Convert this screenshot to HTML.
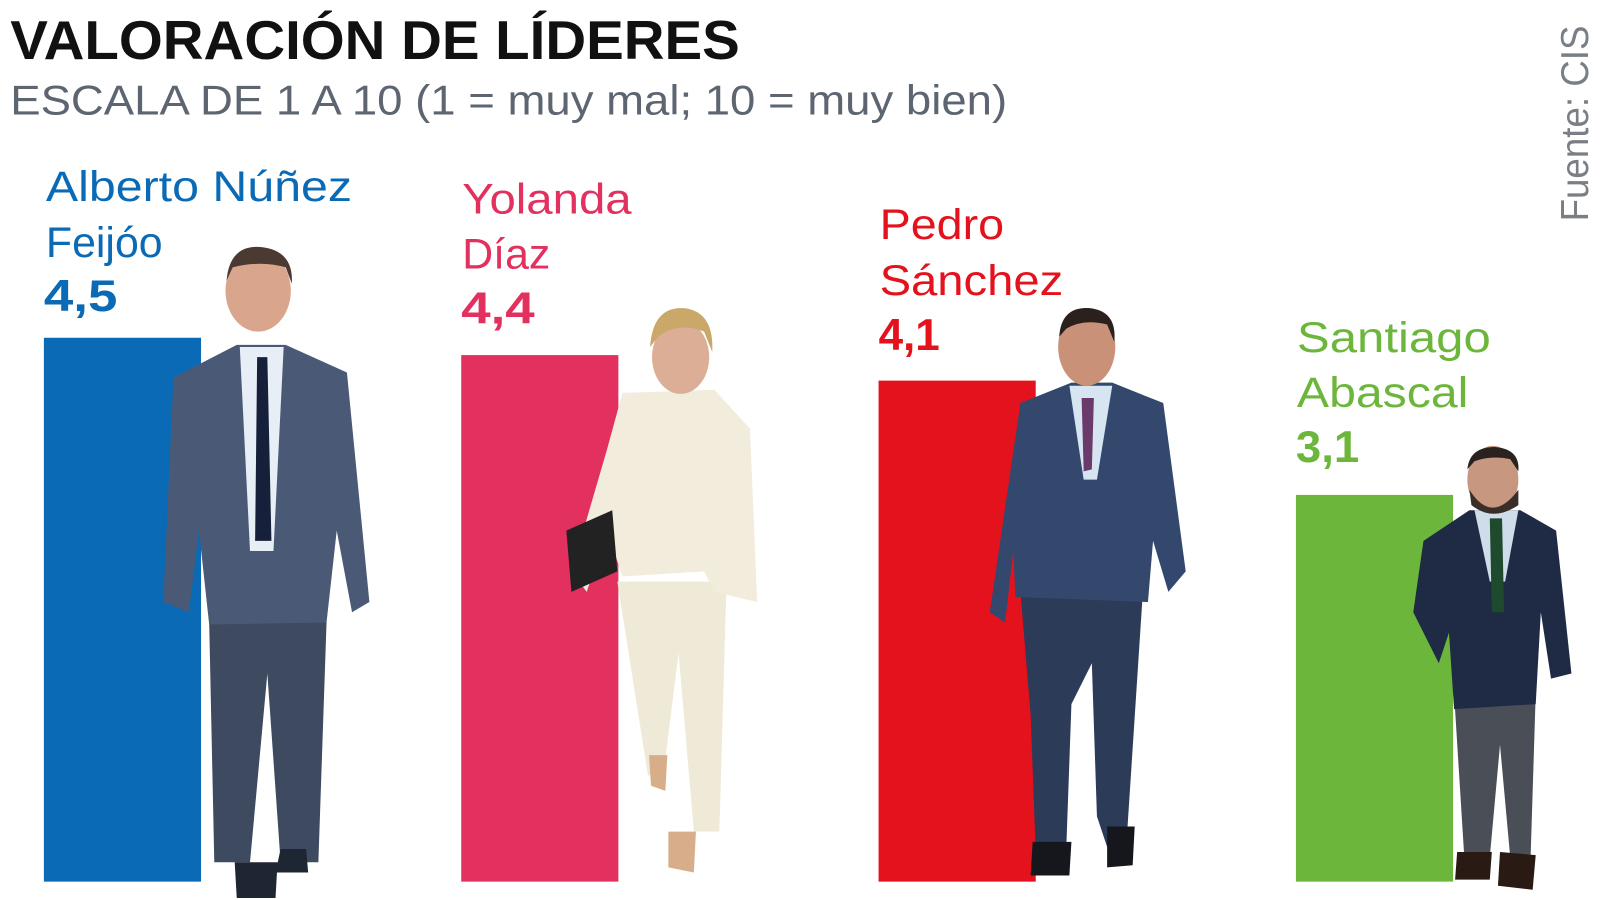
<!DOCTYPE html>
<html><head><meta charset="utf-8"><style>
html,body{margin:0;padding:0;background:#fff;width:1600px;height:900px;overflow:hidden}
svg{display:block}
text{font-family:"Liberation Sans",sans-serif}
</style></head><body>
<svg width="1600" height="900" viewBox="0 0 1568 882" preserveAspectRatio="none">
<rect width="1568" height="882" fill="#fff"/>
<text x="10" y="58" font-size="54" font-weight="bold" fill="#111" textLength="715" lengthAdjust="spacingAndGlyphs">VALORACIÓN DE LÍDERES</text>
<text x="10" y="112" font-size="41" fill="#5d6670" textLength="977" lengthAdjust="spacingAndGlyphs">ESCALA DE 1 A 10 (1 = muy mal; 10 = muy bien)</text>
<text transform="translate(1556,217) rotate(-90)" font-size="38" fill="#7a7f85" textLength="192" lengthAdjust="spacingAndGlyphs">Fuente: CIS</text>

<g fill="#0a6ab5">
<text x="45" y="197" font-size="42" textLength="300" lengthAdjust="spacingAndGlyphs">Alberto Núñez</text>
<text x="45" y="252" font-size="42">Feijóo</text>
<text x="43" y="305" font-size="44" font-weight="bold" textLength="72" lengthAdjust="spacingAndGlyphs">4,5</text>
<rect x="43" y="331" width="154" height="533"/>
</g>
<g fill="#e2305f">
<text x="453" y="209" font-size="42" textLength="166" lengthAdjust="spacingAndGlyphs">Yolanda</text>
<text x="453" y="263" font-size="42">Díaz</text>
<text x="452" y="317" font-size="44" font-weight="bold" textLength="72" lengthAdjust="spacingAndGlyphs">4,4</text>
<rect x="452" y="348" width="154" height="516"/>
</g>
<g fill="#e3121c">
<text x="862" y="234" font-size="42" textLength="122" lengthAdjust="spacingAndGlyphs">Pedro</text>
<text x="862" y="289" font-size="42" textLength="180" lengthAdjust="spacingAndGlyphs">Sánchez</text>
<text x="861" y="343" font-size="44" font-weight="bold" textLength="60" lengthAdjust="spacingAndGlyphs">4,1</text>
<rect x="861" y="373" width="154" height="491"/>
</g>
<g fill="#6db63c">
<text x="1271" y="345" font-size="42" textLength="190" lengthAdjust="spacingAndGlyphs">Santiago</text>
<text x="1271" y="399" font-size="42" textLength="168" lengthAdjust="spacingAndGlyphs">Abascal</text>
<text x="1270" y="453" font-size="44" font-weight="bold" textLength="62" lengthAdjust="spacingAndGlyphs">3,1</text>
<rect x="1270" y="485" width="154" height="379"/>
</g>

<!-- Feijóo -->
<g>
<path d="M205 610 L320 610 L312 845 L275 845 L262 660 L245 845 L210 845 Z" fill="#3d4a60"/>
<path d="M170 370 L232 338 L280 338 L340 365 L362 590 L345 600 L330 520 L320 610 L205 612 L195 520 L185 600 L160 590 Z" fill="#4a5a76"/>
<path d="M235 340 L278 340 L268 540 L245 540 Z" fill="#e8eef5"/>
<path d="M252 350 L262 350 L266 530 L250 530 Z" fill="#17203a"/>
<ellipse cx="253" cy="285" rx="32" ry="40" fill="#d9a58c"/>
<path d="M222 275 Q225 240 255 242 Q288 245 286 278 L280 262 Q255 255 228 262 Z" fill="#4a3a32"/>
<path d="M230 845 L272 845 L270 880 L232 880 Z M275 832 L300 832 L302 855 L270 855 Z" fill="#1e2533"/>
</g>
<!-- Yolanda -->
<g>
<path d="M605 570 L712 570 L705 815 L680 815 L665 640 L650 760 L635 760 Z" fill="#efe9d8"/>
<path d="M610 385 L700 382 L735 420 L742 590 L700 580 L690 560 L610 565 L595 520 L575 580 L560 560 L595 440 Z" fill="#f2ecdc"/>
<path d="M555 520 L600 500 L605 560 L560 580 Z" fill="#222"/>
<ellipse cx="667" cy="350" rx="28" ry="36" fill="#dcae96"/>
<path d="M637 340 Q640 300 670 302 Q700 305 698 345 L690 325 Q665 315 645 330 Z" fill="#c9a869"/>
<path d="M655 815 L682 815 L680 855 L655 850 Z M636 740 L654 740 L652 775 L638 770 Z" fill="#d8ae8a"/>
</g>
<!-- Sánchez -->
<g>
<path d="M1000 580 L1120 580 L1105 810 L1090 845 L1075 800 L1070 650 L1050 690 L1045 830 L1015 835 L1010 700 Z" fill="#2c3b58"/>
<path d="M1000 395 L1050 375 L1090 375 L1140 395 L1162 560 L1145 580 L1130 530 L1125 590 L995 585 L993 540 L985 610 L970 600 Z" fill="#34486e"/>
<path d="M1048 378 L1090 378 L1075 470 L1062 470 Z" fill="#d7e4f2"/>
<path d="M1060 390 L1072 390 L1070 460 L1062 462 Z" fill="#6a3a6a"/>
<ellipse cx="1065" cy="340" rx="28" ry="38" fill="#c99278"/>
<path d="M1038 330 Q1040 300 1068 302 Q1095 305 1092 335 L1085 318 Q1062 312 1045 322 Z" fill="#2a211d"/>
<path d="M1012 825 L1050 825 L1048 858 L1010 858 Z M1085 810 L1112 810 L1110 848 L1085 850 Z" fill="#15171c"/>
</g>
<!-- Abascal -->
<g>
<path d="M1425 680 L1505 680 L1500 840 L1480 840 L1470 730 L1460 840 L1435 840 Z" fill="#4a4f57"/>
<path d="M1395 530 L1440 500 L1490 500 L1525 520 L1540 660 L1520 665 L1510 600 L1505 690 L1425 695 L1420 620 L1410 650 L1385 600 Z" fill="#1f2a45"/>
<path d="M1445 500 L1488 500 L1475 570 L1460 570 Z" fill="#cfdcea"/>
<path d="M1460 508 L1472 508 L1474 600 L1462 600 Z" fill="#1e4a2e"/>
<ellipse cx="1463" cy="470" rx="25" ry="33" fill="#c89780"/>
<path d="M1440 480 Q1462 515 1488 480 L1488 495 Q1463 512 1442 495 Z" fill="#3a2e28"/>
<path d="M1438 460 Q1440 438 1465 438 Q1490 440 1488 462 L1480 450 Q1462 446 1445 452 Z" fill="#2a221e"/>
<path d="M1428 835 L1462 835 L1460 862 L1426 862 Z M1470 835 L1505 838 L1502 872 L1468 868 Z" fill="#2a1a14"/>
</g>
</svg>
</body></html>
